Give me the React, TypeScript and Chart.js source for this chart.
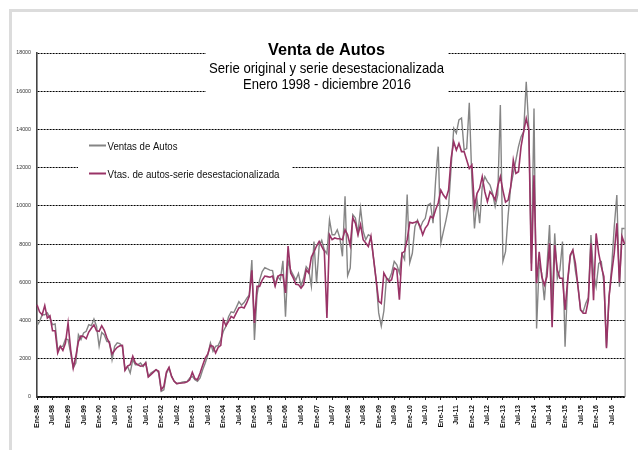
import React, { useEffect, useRef } from 'react';
import { Chart, registerables } from 'chart.js';

Chart.register(...registerables);

const MONTHS = ['Ene', 'Feb', 'Mar', 'Abr', 'May', 'Jun', 'Jul', 'Ago', 'Sep', 'Oct', 'Nov', 'Dic'];
const YEARS = ['98', '99', '00', '01', '02', '03', '04', '05', '06', '07', '08', '09', '10', '11', '12', '13', '14', '15', '16'];
const CATEGORIES = YEARS.flatMap((y) => MONTHS.map((m) => `${m}-${y}`));
const Y_TICKS = [0, 2000, 4000, 6000, 8000, 10000, 12000, 14000, 16000, 18000];

const SERIES_NAMES = ['Ventas de Autos', 'Vtas. de autos-serie desestacionalizada'];
const TITLE = 'Venta de Autos';
const SUBTITLE = ['Serie original y serie desestacionalizada', 'Enero 1998 - diciembre 2016'];

// Ventas de Autos (serie original)
const ORIGINAL = [
  3730, 3960, 4300, 4300, 4400, 4130, 3780, 3820, 2480, 2650, 2650, 3030,
  3000, 2300, 1520, 1780, 3260, 3000, 3350, 3440, 3780, 3730, 4080, 3700,
  2650, 3380, 3250, 2900, 2910, 1950, 2650, 2830, 2790, 2650, 1430, 1600,
  1260, 1950, 1690, 1690, 1780, 1600, 1810, 1080, 1260, 1340, 1430, 1260,
  300, 380, 1220, 1520, 1080, 820, 700, 730, 770, 800, 820, 990,
  1080, 910, 820, 1000, 1430, 1780, 2210, 2830, 2390, 2650, 2700, 3000,
  3440, 3700, 4200, 4460, 4410, 4690, 4990, 4810, 4940, 5160, 5340, 7170,
  2980, 5340, 6120, 6560, 6770, 6700, 6640, 6610, 5860, 6300, 6120, 7130,
  4200, 7130, 6640, 6380, 6120, 6470, 5810, 6210, 6820, 6640, 5800, 8130,
  5950, 7900, 8200, 7700, 7500, 9280, 8490, 8490, 8750, 8320, 7360, 10500,
  6350, 6750, 9540, 9370, 8580, 9890, 8670, 8230, 8490, 8400, 7270, 6140,
  4400, 3710, 4500, 6230, 6140, 6490, 7100, 6920, 6490, 7500, 7200, 10600,
  7030, 7520, 8910, 9260, 8820, 9170, 9350, 10040, 10130, 9090, 11350, 13100,
  8040, 8650, 9260, 9960, 12050, 14060, 13800, 14500, 14600, 12930, 13000, 15400,
  11350, 8820, 10310, 9090, 11000, 11530, 11270, 11090, 10660, 9960, 10570, 15280,
  7100, 7600, 9500, 11000, 11700, 12400, 13100, 13620, 13880, 16500, 14060, 6990,
  15100, 3590, 6990, 6470, 5070, 6820, 9000, 4900, 8560, 6210, 6640, 8130,
  2630, 6000, 7340, 7690, 6600, 5770, 4550, 4460, 4900, 5200, 8480, 6470,
  5770, 6990, 7080, 5950, 2630, 5250, 6820, 8910, 10570, 5770, 8820, 8820,
];

// Vtas. de autos - serie desestacionalizada
const DESEST = [
  4830, 4450, 4300, 4780, 4130, 4250, 3470, 3470, 2300, 2650, 2440, 2820,
  3870, 2480, 1520, 2130, 2900, 3200, 3170, 3050, 3400, 3600, 3780, 3460,
  3440, 3730, 3490, 3100, 2800, 2250, 2450, 2600, 2680, 2700, 1400, 1620,
  1690, 2130, 1780, 1680, 1610, 1640, 1780, 1050, 1170, 1300, 1430, 1350,
  380, 560, 1310, 1550, 1080, 820, 700, 720, 730, 750, 790, 900,
  1290, 960, 910, 1260, 1660, 2040, 2250, 2700, 2650, 2300, 2600, 2700,
  4050, 3730, 3960, 4220, 4130, 4400, 4660, 4710, 4660, 4920, 5270, 6630,
  3870, 5790, 5790, 6120, 6330, 6300, 6270, 6330, 5800, 6300, 6390, 6390,
  5450, 7900, 6490, 6230, 5900, 5880, 5700, 5880, 6660, 6490, 7320, 7600,
  7900, 8140, 7880, 7620, 4130, 8490, 8230, 8320, 8280, 8280, 8230, 8750,
  8490, 7920, 9370, 9100, 8490, 9020, 8230, 8060, 7880, 8410, 7270, 6140,
  5010, 4900, 6490, 6230, 6050, 6140, 6750, 6660, 5090, 7530, 7620, 8230,
  9140, 9100, 9140, 9190, 8930, 8490, 8840, 9020, 9450, 9370, 9800, 10150,
  10830, 10570, 10390, 10830, 12500, 13360, 12920, 13270, 12840, 12840, 12400, 11960,
  12140, 9960, 10660, 10920, 11530, 10740, 10220, 10740, 10570, 10310, 11040, 11530,
  10800, 10200, 10300, 11000, 12400, 11700, 11790, 13100, 13880, 14580, 13970, 6600,
  11600, 5950, 7600, 6300, 5860, 6300, 8040, 3650, 7950, 6640, 6210, 6210,
  4550, 6100, 7430, 7690, 6990, 5770, 4550, 4380, 4380, 5070, 8040, 5070,
  8560, 7520, 6820, 6300, 2550, 5250, 6470, 7520, 9090, 6000, 8390, 8000,
];

const FONT = 'Arial, "Liberation Sans", sans-serif';
const GRAY = '#858585';
const PLUM = '#993366';

function fitText(ctx: CanvasRenderingContext2D, text: string, x: number, baseline: number, font: string, width: number, align: 'center' | 'left') {
  ctx.save();
  ctx.font = font;
  ctx.textBaseline = 'alphabetic';
  const w = ctx.measureText(text).width || 1;
  ctx.translate(x, baseline);
  ctx.scale(width / w, 1);
  ctx.textAlign = align;
  ctx.fillText(text, 0, 0);
  ctx.restore();
}

const overlayPlugin = {
  id: 'overlay',
  beforeDatasetsDraw(chart: any) {
    const { ctx, chartArea } = chart;
    ctx.save();
    // white boxes behind title and legend
    ctx.fillStyle = '#ffffff';
    ctx.fillRect(206, 36, 242, 63);
    ctx.fillRect(78, 133, 214, 56);
    // right border of plot
    ctx.strokeStyle = '#8a8a8a';
    ctx.lineWidth = 1;
    ctx.beginPath();
    ctx.moveTo(chartArea.right + 0.5, chartArea.top);
    ctx.lineTo(chartArea.right + 0.5, chartArea.bottom);
    ctx.stroke();
    // title
    ctx.fillStyle = '#000000';
    fitText(ctx, TITLE, 326.5, 55, `bold 16px ${FONT}`, 117, 'center');
    fitText(ctx, SUBTITLE[0], 326.5, 73, `15px ${FONT}`, 235, 'center');
    fitText(ctx, SUBTITLE[1], 327, 89, `15px ${FONT}`, 168, 'center');
    // legend
    ctx.lineWidth = 2;
    ctx.strokeStyle = GRAY;
    ctx.beginPath();
    ctx.moveTo(89, 145.5);
    ctx.lineTo(106, 145.5);
    ctx.stroke();
    ctx.strokeStyle = PLUM;
    ctx.beginPath();
    ctx.moveTo(89, 173.5);
    ctx.lineTo(106, 173.5);
    ctx.stroke();
    ctx.fillStyle = '#111111';
    fitText(ctx, SERIES_NAMES[0], 107.5, 149.5, `11px ${FONT}`, 70, 'left');
    fitText(ctx, SERIES_NAMES[1], 107.5, 177.5, `11px ${FONT}`, 172, 'left');
    ctx.restore();
  },
};

export default function App() {
  const canvasRef = useRef<HTMLCanvasElement | null>(null);

  useEffect(() => {
    const canvas = canvasRef.current;
    if (!canvas) return;
    const chart = new Chart(canvas, {
      type: 'line',
      data: {
        labels: CATEGORIES,
        datasets: [
          {
            label: SERIES_NAMES[1],
            data: DESEST,
            borderColor: PLUM,
            borderWidth: 1.6,
            pointRadius: 0,
            tension: 0,
            fill: false,
            order: 0,
          },
          {
            label: SERIES_NAMES[0],
            data: ORIGINAL,
            borderColor: GRAY,
            borderWidth: 1.4,
            pointRadius: 0,
            tension: 0,
            fill: false,
            order: 1,
          },
        ],
      },
      options: {
        responsive: false,
        animation: false,
        devicePixelRatio: 1,
        layout: { padding: { left: 0, right: 12, top: 53, bottom: 0 } },
        plugins: {
          legend: { display: false },
          title: { display: false },
          tooltip: { enabled: false },
        },
        scales: {
          x: {
            type: 'category',
            offset: false,
            border: { display: true, color: '#111111', width: 1.5 },
            grid: {
              display: true,
              drawOnChartArea: false,
              drawTicks: true,
              tickLength: 3,
              color: (c: any) => (c.index % 6 === 0 ? '#222222' : 'rgba(0,0,0,0)'),
              lineWidth: (c: any) => (c.index % 6 === 0 ? 1 : 0),
            },
            ticks: {
              autoSkip: false,
              maxRotation: 90,
              minRotation: 90,
              padding: 5,
              color: '#111111',
              font: { family: FONT, size: 7, weight: 'bold' },
              callback: (_v: any, i: number) => (i % 6 === 0 ? CATEGORIES[i] : ''),
            },
            afterFit: (scale: any) => {
              scale.height = 53;
            },
          },
          y: {
            min: 0,
            max: 18000,
            afterBuildTicks: (scale: any) => {
              scale.ticks = Y_TICKS.map((v) => ({ value: v }));
            },
            border: { display: true, color: '#444444', width: 1.6, dash: [2, 1] },
            grid: { color: '#000000', lineWidth: 1, drawTicks: false },
            ticks: {
              padding: 6,
              color: '#333333',
              font: { family: FONT, size: 5.3 },
              callback: (v: any) => String(v),
            },
            afterFit: (scale: any) => {
              scale.width = 37;
            },
          },
        },
      },
      plugins: [overlayPlugin],
    } as any);
    return () => chart.destroy();
  }, []);

  return (
    <div style={{ position: 'fixed', left: 0, top: 0, width: 638, height: 450, overflow: 'hidden', background: '#ffffff' }}>
      <div
        style={{
          position: 'absolute',
          left: 9,
          top: 9,
          width: 700,
          height: 500,
          borderTop: '3px solid #dcdcdc',
          borderLeft: '3px solid #dcdcdc',
        }}
      />
      <canvas ref={canvasRef} width={638} height={450} style={{ position: 'absolute', left: 0, top: 0, width: 638, height: 450 }} />
    </div>
  );
}
